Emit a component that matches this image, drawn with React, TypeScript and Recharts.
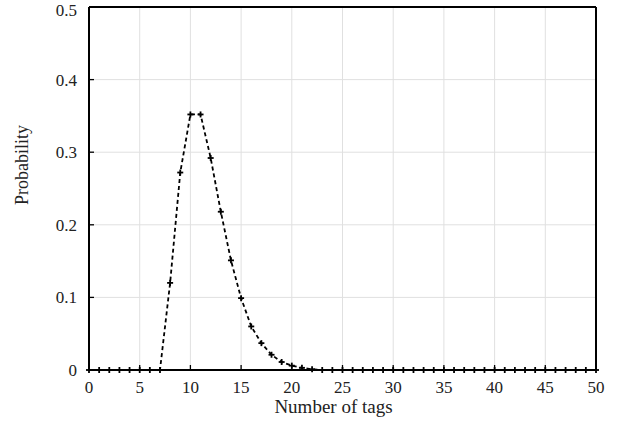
import { LineChart, Line, XAxis, YAxis, CartesianGrid, ReferenceLine } from 'recharts';

const tagCounts = [
  0, 1, 2, 3, 4, 5, 6, 7, 8, 9, 10, 11, 12, 13, 14, 15, 16, 17, 18, 19, 20, 21, 22, 23, 24, 25,
  26, 27, 28, 29, 30, 31, 32, 33, 34, 35, 36, 37, 38, 39, 40, 41, 42, 43, 44, 45, 46, 47, 48, 49, 50,
];
const probabilities = [
  0, 0, 0, 0, 0, 0, 0, 0, 0.12, 0.272, 0.352, 0.352, 0.292, 0.218, 0.151, 0.099, 0.06, 0.037, 0.021,
  0.011, 0.006, 0.003, 0.001, 0, 0, 0, 0, 0, 0, 0, 0, 0, 0, 0, 0, 0, 0, 0, 0, 0, 0, 0, 0, 0, 0, 0, 0,
  0, 0, 0, 0,
];
const xTicks = [0, 5, 10, 15, 20, 25, 30, 35, 40, 45, 50];
const yTicks = [0, 0.1, 0.2, 0.3, 0.4, 0.5];

const data = tagCounts.map((n, i) => ({ n, p: probabilities[i] }));

const font = { fontFamily: '"Liberation Serif", serif', fontSize: 17, fill: '#222' };

// small "+" marker like the gnuplot points
function PlusDot(props: any) {
  const { cx, cy } = props;
  if (cx == null || cy == null) return null;
  return (
    <g>
      <line x1={cx - 3} y1={cy} x2={cx + 3} y2={cy} stroke="#000" strokeWidth={1.8} />
      <line x1={cx} y1={cy - 3} x2={cx} y2={cy + 3} stroke="#000" strokeWidth={1.8} />
    </g>
  );
}

function YTitle() {
  return (
    <text
      x={22}
      y={165}
      transform="rotate(-90 22 165)"
      textAnchor="middle"
      dominantBaseline="central"
      style={{ ...font, fontSize: 18 }}
    >
      Probability
    </text>
  );
}

const axisLine = { stroke: '#000', strokeWidth: 2 };
const tickLine = { stroke: '#000', strokeWidth: 1.3 };

export default function App() {
  return (
    <div>
      <style>{`body{margin:0;background:#fff}`}</style>
      <LineChart width={623} height={427} data={data} margin={{ top: 7, right: 27, bottom: 7, left: 0 }}>
        <CartesianGrid stroke="#e0e0e0" strokeWidth={1} />
        <XAxis
          dataKey="n"
          type="number"
          domain={[0, 50]}
          ticks={xTicks}
          height={50}
          tickSize={-5}
          tickMargin={16}
          tick={font}
          axisLine={axisLine}
          tickLine={tickLine}
          label={{ value: 'Number of tags', position: 'insideBottom', offset: 7, dx: -9, style: { ...font, fontSize: 19 } }}
        />
        <XAxis
          xAxisId="top"
          dataKey="n"
          type="number"
          orientation="top"
          domain={[0, 50]}
          ticks={xTicks}
          height={0}
          tickSize={-5}
          tick={false}
          axisLine={axisLine}
          tickLine={tickLine}
        />
        <YAxis
          type="number"
          domain={[0, 0.5]}
          ticks={yTicks}
          width={89}
          tickSize={-5}
          tickMargin={17}
          tick={font}
          tickFormatter={(v: number) => (v === 0 ? '0' : String(v))}
          axisLine={axisLine}
          tickLine={tickLine}
          label={<YTitle />}
        />
        <YAxis
          yAxisId="right"
          type="number"
          orientation="right"
          domain={[0, 0.5]}
          ticks={yTicks}
          width={0}
          tickSize={-5}
          tick={false}
          axisLine={axisLine}
          tickLine={tickLine}
        />
        <ReferenceLine x={50} stroke="#000" strokeWidth={2} />
        <ReferenceLine y={0.5} stroke="#000" strokeWidth={2} />
        <Line
          type="linear"
          dataKey="p"
          stroke="#000"
          strokeWidth={1.8}
          strokeDasharray="4 3"
          dot={<PlusDot />}
          activeDot={false}
          isAnimationActive={false}
        />
      </LineChart>
    </div>
  );
}
